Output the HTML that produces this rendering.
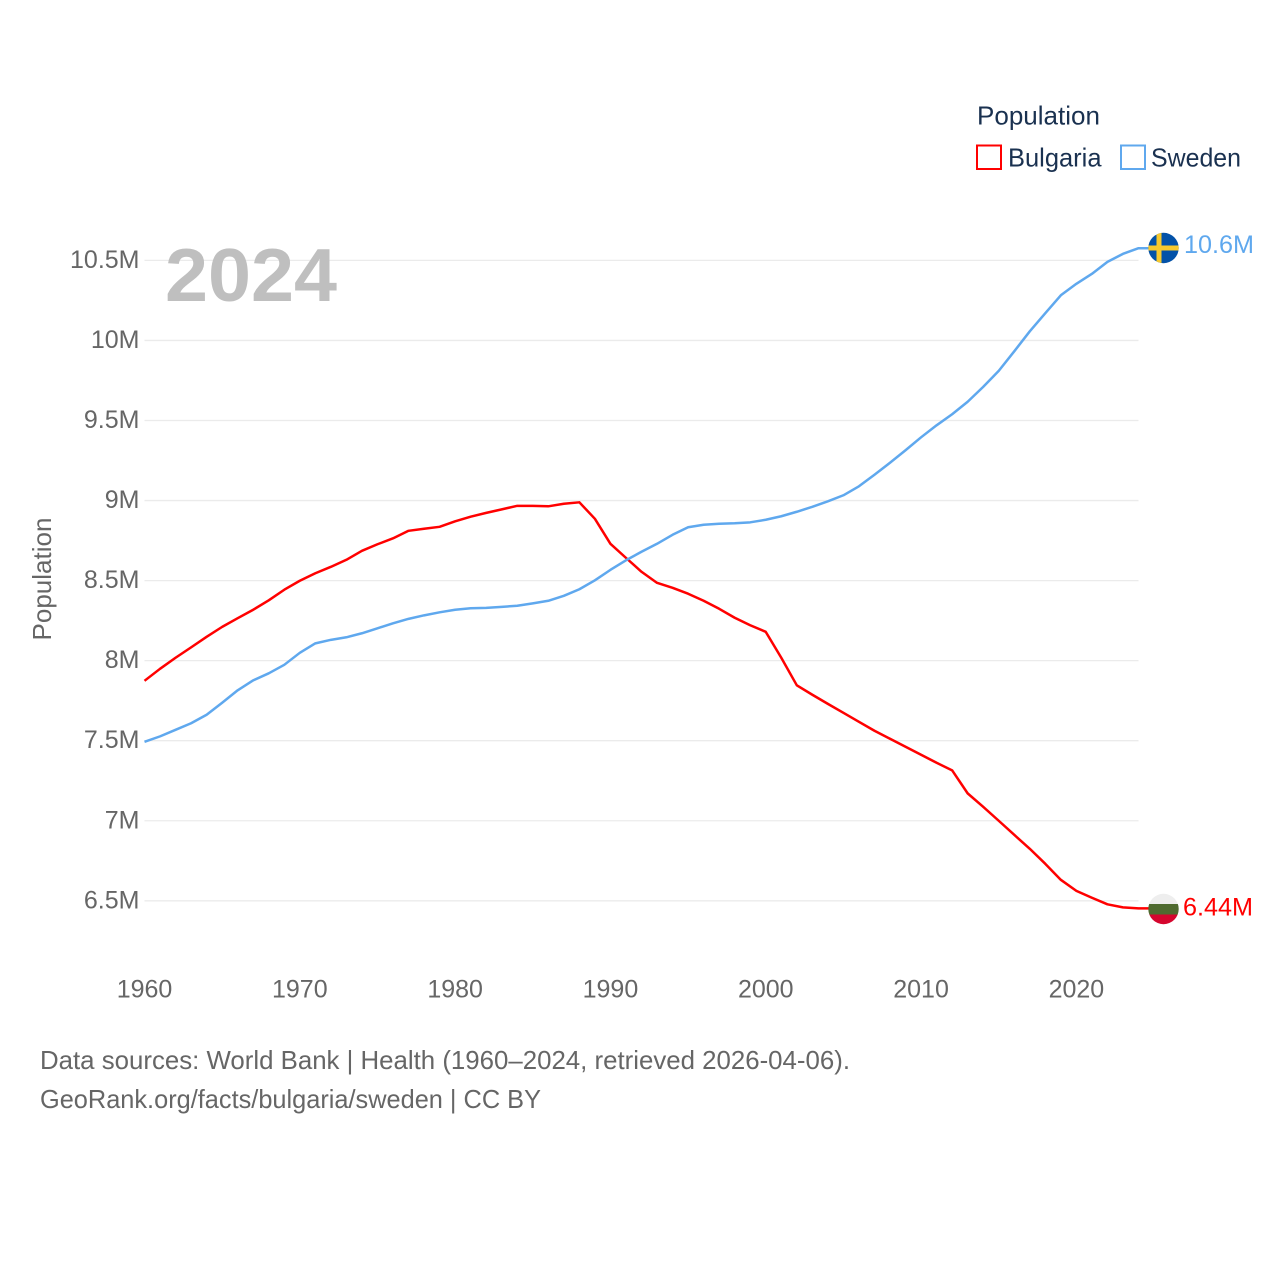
<!DOCTYPE html>
<html lang="en">
<head>
<meta charset="utf-8">
<title>Population: Bulgaria vs Sweden</title>
<style>
html,body{margin:0;padding:0;background:#fff;}
svg{display:block;font-family:"Liberation Sans",sans-serif;}
</style>
</head>
<body>
<svg id="chart" xmlns="http://www.w3.org/2000/svg" width="1280" height="1280" viewBox="0 0 1280 1280">
  <rect x="0" y="0" width="1280" height="1280" fill="#ffffff"/>
  <g id="grid"></g>
  <g id="y-axis"></g>
  <g id="x-axis"></g>
  <text x="165" y="301" font-size="75" font-weight="700" fill="#bfbfbf" textLength="172" lengthAdjust="spacingAndGlyphs">2024</text>
  <g id="series"></g>

  <g>
    <clipPath id="clip-se"><circle cx="1163.5" cy="248" r="15.2"/></clipPath>
    <g clip-path="url(#clip-se)">
      <rect x="1148" y="232" width="32" height="32" fill="#0352a8"/>
      <rect x="1156.5" y="232" width="5" height="32" fill="#f7c92e"/>
      <rect x="1148" y="245.5" width="32" height="5" fill="#f7c92e"/>
    </g>
  </g>
  <g>
    <clipPath id="clip-bg"><circle cx="1163.5" cy="909" r="15.2"/></clipPath>
    <g clip-path="url(#clip-bg)">
      <rect x="1148" y="893" width="32" height="11" fill="#eeeeee"/>
      <rect x="1148" y="904" width="32" height="10.5" fill="#4f6b30"/>
      <rect x="1148" y="914.5" width="32" height="11" fill="#d5062e"/>
    </g>
  </g>

  <text transform="translate(51,579) rotate(-90)" text-anchor="middle" font-size="26" fill="#666666" textLength="123" lengthAdjust="spacingAndGlyphs">Population</text>

  <g>
    <text x="977" y="124.5" font-size="26" fill="#1a3150" textLength="123" lengthAdjust="spacingAndGlyphs">Population</text>
    <g>
      <rect x="977" y="145.5" width="24" height="23.5" fill="#ffffff" stroke="#ff0000" stroke-width="2"/>
      <text x="1008" y="166.5" font-size="26" fill="#1a3150" textLength="93.5" lengthAdjust="spacingAndGlyphs">Bulgaria</text>
    </g>
    <g>
      <rect x="1121" y="145.5" width="24" height="23.5" fill="#ffffff" stroke="#5fa8ee" stroke-width="2"/>
      <text x="1151" y="166.5" font-size="26" fill="#1a3150" textLength="90" lengthAdjust="spacingAndGlyphs">Sweden</text>
    </g>
  </g>

  <g>
    <text x="40" y="1069" font-size="26" fill="#666666" textLength="810" lengthAdjust="spacingAndGlyphs">Data sources: World Bank | Health (1960–2024, retrieved 2026-04-06).</text>
    <text x="40" y="1108" font-size="26" fill="#666666" textLength="501" lengthAdjust="spacingAndGlyphs">GeoRank.org/facts/bulgaria/sweden | CC BY</text>
  </g>
</svg>

<script>
const startYear = 1960;
const endYear = 2024;
const xTickYears = [1960, 1970, 1980, 1990, 2000, 2010, 2020];
const yTickValues = [6.5, 7, 7.5, 8, 8.5, 9, 9.5, 10, 10.5];
const yTickLabels = ['6.5M', '7M', '7.5M', '8M', '8.5M', '9M', '9.5M', '10M', '10.5M'];
const bulgariaValues = [7.874,7.949,8.018,8.083,8.149,8.211,8.265,8.318,8.377,8.443,8.499,8.546,8.586,8.630,8.686,8.727,8.764,8.811,8.824,8.836,8.870,8.899,8.923,8.945,8.967,8.967,8.964,8.980,8.989,8.886,8.730,8.642,8.555,8.486,8.455,8.418,8.374,8.324,8.268,8.221,8.180,8.018,7.846,7.787,7.730,7.674,7.618,7.562,7.512,7.462,7.412,7.362,7.315,7.171,7.087,7.000,6.912,6.825,6.731,6.631,6.562,6.519,6.478,6.459,6.453];
const swedenValues = [7.493,7.527,7.568,7.609,7.662,7.737,7.815,7.877,7.921,7.974,8.049,8.108,8.130,8.146,8.171,8.202,8.233,8.261,8.283,8.302,8.318,8.327,8.330,8.336,8.343,8.358,8.374,8.405,8.446,8.502,8.567,8.627,8.680,8.730,8.786,8.833,8.849,8.855,8.858,8.864,8.880,8.902,8.930,8.961,8.995,9.033,9.089,9.161,9.236,9.314,9.395,9.470,9.539,9.617,9.710,9.810,9.932,10.057,10.170,10.282,10.354,10.416,10.491,10.541,10.576];
const bulgariaEndLabel = '6.44M';
const swedenEndLabel = '10.6M';

const NS = 'http://www.w3.org/2000/svg';
const plotLeft = 144.5;
const plotRight = 1138.5;
const xScale = (year) => plotLeft + (year - startYear) * (plotRight - plotLeft) / (endYear - startYear);
const yScale = (value) => 900.8 - (value - 6.5) * 160.1;
const grid = document.getElementById('grid');
const yAxis = document.getElementById('y-axis');
const xAxis = document.getElementById('x-axis');
const seriesGroup = document.getElementById('series');

function make(tag, attrs, parent, content) {
  const el = document.createElementNS(NS, tag);
  Object.keys(attrs).forEach((k) => el.setAttribute(k, attrs[k]));
  if (content !== undefined) el.textContent = content;
  parent.appendChild(el);
  return el;
}

yTickValues.forEach((value, i) => {
  const line = make('line', { x1: plotLeft, x2: plotRight, y1: yScale(value), y2: yScale(value), stroke: '#ebebeb', 'stroke-width': 1.3 }, grid);
  
  
  const label = make('text', { x: 139.5, y: yScale(value) + 7.5, 'text-anchor': 'end', 'font-size': 25, fill: '#666666' }, yAxis, yTickLabels[i]);
  
  
});

xTickYears.forEach((year) => {
  const label = make('text', { x: xScale(year), y: 997.5, 'text-anchor': 'middle', 'font-size': 25, fill: '#666666' }, xAxis, String(year));
  
  
});

function drawSeries(values, color, endLabel, labelX, labelBaselineOffset) {
  const pts = values.map((v, i) => xScale(startYear + i).toFixed(2) + ',' + yScale(v).toFixed(2));
  const lastY = yScale(values[values.length - 1]);
  pts.push('1150,' + lastY.toFixed(2));
  const line = make('polyline', { points: pts.join(' '), fill: 'none', stroke: color, 'stroke-width': 2.5, 'stroke-linejoin': 'round' }, seriesGroup);
  
  
  const label = make('text', { x: labelX, y: lastY + labelBaselineOffset, 'font-size': 25, fill: color, textLength: 70, lengthAdjust: 'spacingAndGlyphs' }, seriesGroup, endLabel);
  
  
}

drawSeries(bulgariaValues, '#ff0000', bulgariaEndLabel, 1183, 7);
drawSeries(swedenValues, '#5fa8ee', swedenEndLabel, 1184, 5);
</script>
</body>
</html>
